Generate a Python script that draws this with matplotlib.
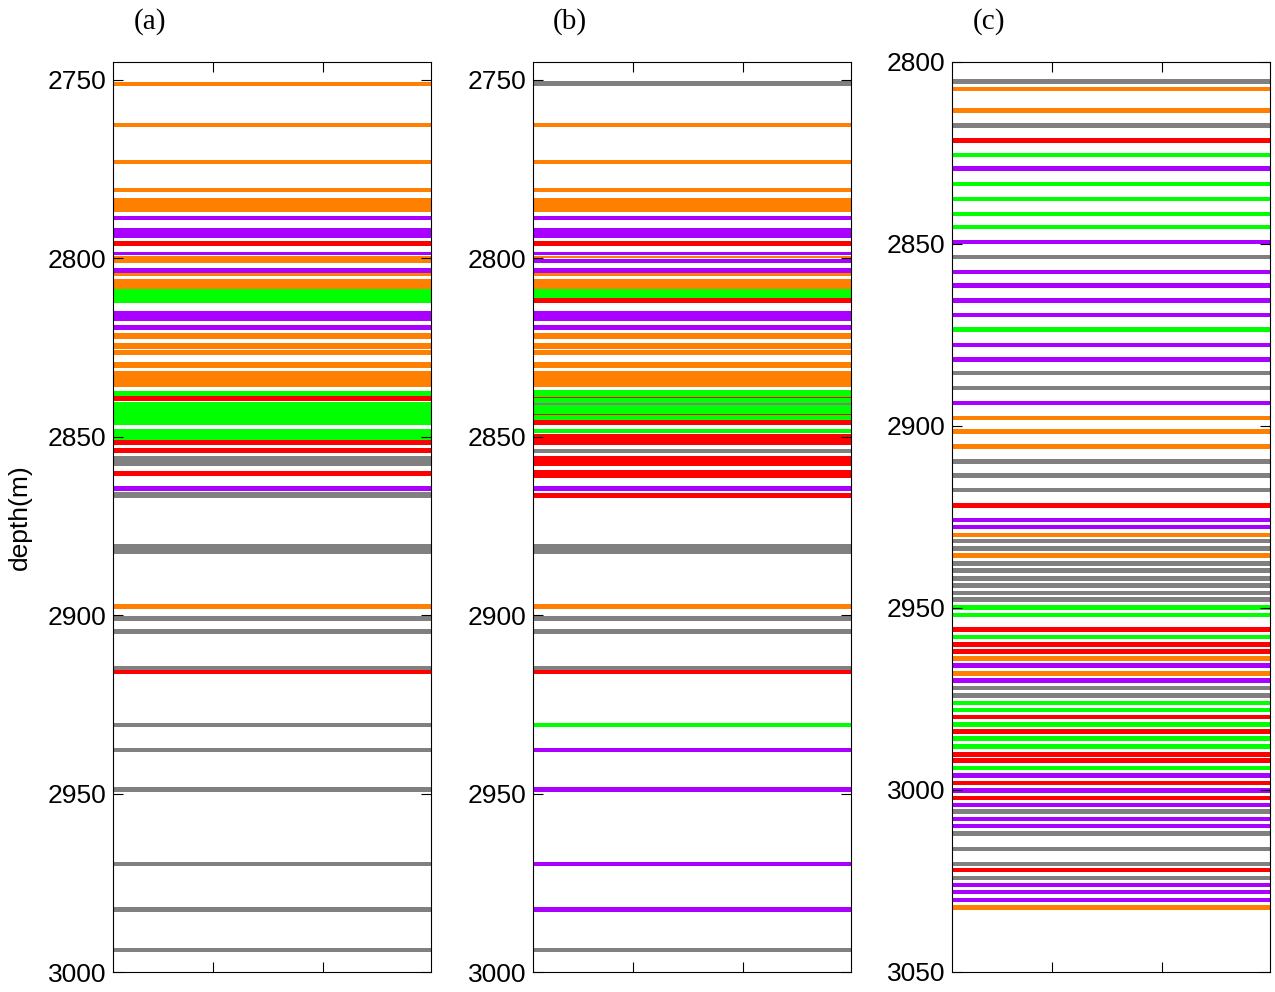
import matplotlib
matplotlib.use("Agg")
import matplotlib.pyplot as plt
import numpy as np

# facies colours
COLORS = {
    "O": "#ff8000",  # orange
    "P": "#aa00ff",  # purple
    "R": "#ff0000",  # red
    "G": "#00ff00",  # green
    "K": "#808080",  # grey
}

# panel (a): depth intervals (m) and facies
a_top = [2750.5, 2762.0, 2772.5, 2780.2, 2783.0, 2788.1, 2791.4, 2795.1, 2798.2, 2799.3,
         2802.6, 2804.2, 2805.8, 2808.6, 2814.9, 2818.6, 2821.0, 2823.8, 2825.7, 2829.2,
         2831.7, 2833.3, 2837.1, 2838.7, 2840.2, 2847.8, 2850.9, 2853.1, 2855.4, 2859.5,
         2863.7, 2865.5, 2880.2, 2897.0, 2900.3, 2903.8, 2914.3, 2915.3, 2930.1, 2937.1,
         2948.1, 2969.1, 2981.9, 2993.2]
a_base = [2751.7, 2763.2, 2773.7, 2781.4, 2787.0, 2789.4, 2794.2, 2796.7, 2799.1, 2801.2,
          2804.0, 2805.1, 2808.6, 2812.4, 2817.7, 2820.1, 2822.6, 2825.4, 2827.0, 2830.7,
          2833.2, 2836.0, 2838.5, 2840.1, 2846.6, 2850.9, 2852.2, 2854.6, 2858.1, 2860.9,
          2865.1, 2867.1, 2882.8, 2898.3, 2901.7, 2905.2, 2915.3, 2916.6, 2931.3, 2938.3,
          2949.5, 2970.3, 2983.2, 2994.5]
a_fac = ["O", "O", "O", "O", "O", "P", "P", "R", "P", "O",
         "P", "O", "O", "G", "P", "P", "O", "O", "O", "O",
         "O", "O", "G", "R", "G", "G", "R", "R", "K", "R",
         "P", "K", "K", "O", "K", "K", "K", "R", "K", "K",
         "K", "K", "K", "K"]

# panel (b)
b_top = [2750.3, 2762.0, 2772.5, 2780.2, 2783.0, 2788.1, 2791.4, 2795.1, 2798.2, 2799.3,
         2800.1, 2802.6, 2804.2, 2805.8, 2808.6, 2811.1, 2814.9, 2818.6, 2821.0, 2823.8,
         2825.7, 2829.2, 2831.7, 2833.3, 2836.9, 2838.8, 2839.1, 2840.6, 2841.0, 2843.6,
         2843.8, 2845.3, 2847.8, 2849.2, 2853.4, 2855.4, 2859.3, 2863.7, 2865.8, 2880.2,
         2897.0, 2900.3, 2903.8, 2914.3, 2915.3, 2930.1, 2937.1, 2948.1, 2969.1, 2981.9,
         2993.2]
b_base = [2751.7, 2763.2, 2773.7, 2781.4, 2787.0, 2789.4, 2794.2, 2796.7, 2799.1, 2799.9,
          2801.2, 2804.0, 2805.1, 2808.6, 2811.1, 2812.4, 2817.7, 2820.1, 2822.6, 2825.4,
          2827.0, 2830.7, 2833.2, 2836.0, 2838.8, 2839.1, 2840.6, 2841.0, 2843.6, 2843.8,
          2845.3, 2846.6, 2849.0, 2852.2, 2854.6, 2858.1, 2861.5, 2865.1, 2867.1, 2882.8,
          2898.3, 2901.7, 2905.2, 2915.3, 2916.6, 2931.3, 2938.3, 2949.5, 2970.3, 2983.2,
          2994.5]
b_fac = ["K", "O", "O", "O", "O", "P", "P", "R", "P", "O",
         "P", "P", "O", "O", "G", "R", "P", "P", "O", "O",
         "O", "O", "O", "O", "G", "R", "G", "K", "G", "R",
         "G", "R", "G", "R", "K", "R", "R", "P", "R", "K",
         "O", "K", "K", "K", "R", "G", "P", "P", "P", "P",
         "K"]

# panel (c)
c_top = [2804.8, 2806.8, 2812.7, 2816.8, 2820.9, 2825.0, 2828.7, 2832.9, 2837.0, 2841.1,
         2844.8, 2848.9, 2853.0, 2857.1, 2860.8, 2864.9, 2869.0, 2872.9, 2877.1, 2881.1,
         2884.9, 2888.9, 2893.0, 2897.2, 2900.9, 2905.0, 2909.2, 2913.0, 2917.0, 2921.2,
         2925.2, 2927.2, 2929.3, 2931.0, 2933.0, 2935.0, 2937.1, 2939.1, 2941.2, 2943.2,
         2945.2, 2947.1, 2949.2, 2951.3, 2955.1, 2957.4, 2959.4, 2961.3, 2963.2, 2965.2,
         2967.3, 2969.3, 2971.3, 2973.4, 2975.5, 2977.4, 2979.4, 2981.2, 2983.3, 2985.3,
         2987.4, 2989.5, 2991.3, 2993.3, 2995.4, 2997.4, 2999.5, 3001.6, 3003.6, 3005.3,
         3007.3, 3009.3, 3011.4, 3015.6, 3019.7, 3021.3, 3023.5, 3025.5, 3027.5, 3029.6,
         3031.7]
c_base = [2806.0, 2808.0, 2813.9, 2818.0, 2822.2, 2826.2, 2829.9, 2834.1, 2838.1, 2842.3,
          2846.0, 2850.1, 2854.2, 2858.3, 2862.1, 2866.2, 2870.0, 2874.1, 2878.3, 2882.3,
          2886.1, 2890.1, 2894.2, 2898.4, 2902.2, 2906.3, 2910.4, 2914.2, 2918.1, 2922.4,
          2926.5, 2928.4, 2930.6, 2932.2, 2934.3, 2936.3, 2938.4, 2940.5, 2942.5, 2944.5,
          2946.5, 2948.4, 2950.5, 2952.6, 2956.5, 2958.6, 2960.6, 2962.6, 2964.5, 2966.5,
          2968.6, 2970.6, 2972.5, 2974.7, 2976.7, 2978.7, 2980.6, 2982.6, 2984.6, 2986.6,
          2988.6, 2990.8, 2992.6, 2994.6, 2996.6, 2998.6, 3000.7, 3002.7, 3004.8, 3006.6,
          3008.5, 3010.5, 3012.6, 3016.8, 3020.9, 3022.6, 3024.7, 3026.7, 3028.7, 3030.8,
          3033.0]
c_fac = ["K", "O", "O", "K", "R", "G", "P", "G", "G", "G",
         "G", "P", "K", "P", "P", "P", "P", "G", "P", "P",
         "K", "K", "P", "O", "O", "O", "K", "K", "K", "R",
         "P", "P", "O", "K", "K", "O", "K", "K", "K", "K",
         "K", "K", "G", "G", "R", "G", "R", "R", "O", "P",
         "O", "P", "K", "K", "G", "G", "R", "G", "R", "G",
         "G", "R", "R", "G", "P", "R", "P", "R", "P", "K",
         "P", "P", "K", "K", "K", "R", "K", "P", "P", "P",
         "O"]

panels = [
    ("(a)", a_top, a_base, a_fac, (2745, 3000), [2750, 2800, 2850, 2900, 2950, 3000]),
    ("(b)", b_top, b_base, b_fac, (2745, 3000), [2750, 2800, 2850, 2900, 2950, 3000]),
    ("(c)", c_top, c_base, c_fac, (2800, 3050), [2800, 2850, 2900, 2950, 3000, 3050]),
]

W, H = 1275, 992
fig = plt.figure(figsize=(W / 100, H / 100), dpi=100)
lefts = [113, 533, 952]

for i, (label, tops, bases, fac, ylim, yticks) in enumerate(panels):
    ax = fig.add_axes([lefts[i] / W, 1 - 972 / H, 318 / W, 910 / H])
    tops = np.array(tops)
    bases = np.array(bases)
    ax.barh(tops, 1.0, height=bases - tops, left=0, align="edge",
            color=[COLORS[f] for f in fac], linewidth=0)
    ax.set_xlim(0, 1)
    ax.set_ylim(ylim[1], ylim[0])
    ax.set_yticks(yticks)
    ax.set_xticks([0.315, 0.66])
    ax.set_xticklabels([])
    ax.tick_params(direction="in", length=7, width=0.8, top=True, right=True,
                   labelsize=19, pad=5)
    for t in ax.get_yticklabels():
        t.set_fontfamily("Liberation Sans")
    for s in ax.spines.values():
        s.set_linewidth(0.8)
    fig.text((lefts[i] + 37) / W, 1 - 22 / H, label, ha="center", va="center",
             fontsize=21, family="Liberation Serif")
    if i == 0:
        ax.set_ylabel("depth(m)", fontsize=19, family="Liberation Sans")
        ax.yaxis.set_label_coords(-0.255, 0.5)

fig.savefig("out.png", dpi=100)
